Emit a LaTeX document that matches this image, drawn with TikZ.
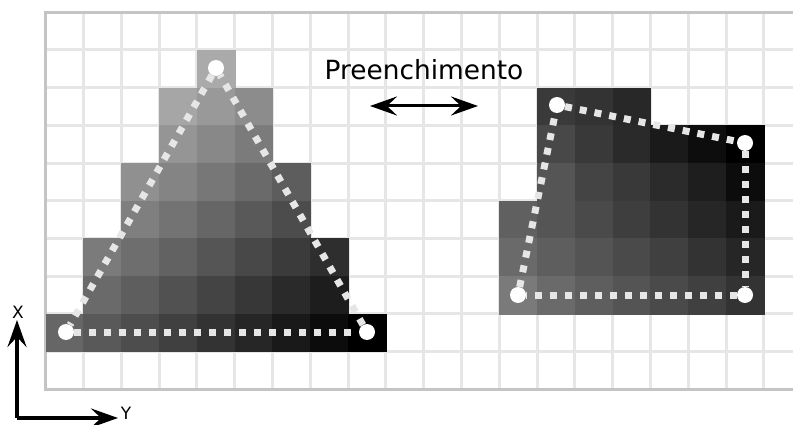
\documentclass[tikz,border=0pt]{standalone}
\usepackage{fontspec}
\setmainfont{DejaVu Sans}
\usetikzlibrary{arrows.meta}
\definecolor{gridc}{HTML}{E6E6E6}
\definecolor{borderc}{HTML}{C4C4C4}
\definecolor{dotc}{HTML}{E6E6E6}
\tikzset{
 gridline/.style={draw=gridc, line width=3pt},
 borderline/.style={draw=borderc, line width=3pt},
 edgeline/.style={draw=dotc, line width=7pt, dash pattern=on 7pt off 8pt},
 vert/.style={circle, fill=white, inner sep=0pt, minimum size=16pt},
 bigtip/.tip={Stealth[length=27pt,width=19pt,inset=10pt]},
 axisarrow/.style={line width=3.5pt, -bigtip},
 cell/.style={fill=black!#1, draw=black!#1, line width=0.3pt},
}
\begin{document}
\begin{tikzpicture}[x=1pt,y=-1pt]
\useasboundingbox (0,0) rectangle (793,425);
% grid
\foreach \k in {1,...,19} \draw[gridline] ({45.7+37.8*\k},12.3) -- ({45.7+37.8*\k},389.3);
\foreach \j in {1,...,9} \draw[gridline] (45.7,{12.3+37.7*\j}) -- (793,{12.3+37.7*\j});
\draw[borderline] (793,12.3) -- (45.7,12.3) -- (45.7,389.3) -- (793,389.3);
% triangle cells
\foreach \r/\a/\b in {1/4/4,2/3/5,3/3/5,4/2/6,5/2/6,6/1/7,7/1/7,8/0/8}{
 \foreach \c in {\a,...,\b}{
  \pgfmathsetmacro\cx{45.7+37.8*(\c+0.5)}
  \pgfmathsetmacro\cy{12.3+37.7*(\r+0.5)}
  \pgfmathsetmacro\p{100-max(0,min(255,273.8-0.339*\cx-0.450*\cy))/2.55}
  \path[cell=\p] ({45.7+37.8*\c},{12.3+37.7*\r}) rectangle ++(37.8,37.7);
 }}
% quad cells
\foreach \r/\c/\v in {2/13/58,2/14/51,2/15/40,
 3/13/72,3/14/57,3/15/42,3/16/26,3/17/13,3/18/0,
 4/13/85,4/14/68,4/15/57,4/16/43,4/17/30,4/18/12,
 5/12/96,5/13/85,5/14/74,5/15/62,5/16/51,5/17/38,5/18/26,
 6/12/106,6/13/94,6/14/84,6/15/74,6/16/64,6/17/51,6/18/38,
 7/12/122,7/13/106,7/14/94,7/15/84,7/16/74,7/17/64,7/18/51}{
  \pgfmathsetmacro\p{100-\v/2.55}
  \path[cell=\p] ({45.7+37.8*\c},{12.3+37.7*\r}) rectangle ++(37.8,37.7);
 }
% vertices
\node[vert] (A) at (216,68) {};
\node[vert] (B) at (66,332) {};
\node[vert] (C) at (367,332) {};
\node[vert] (P) at (557,105) {};
\node[vert] (Q) at (745,143) {};
\node[vert] (R) at (745,295) {};
\node[vert] (S) at (518,295) {};
\draw[edgeline] (A) -- (B);
\draw[edgeline] (B) -- (C);
\draw[edgeline] (C) -- (A);
\draw[edgeline] (P) -- (Q);
\draw[edgeline] (Q) -- (R);
\draw[edgeline] (R) -- (S);
\draw[edgeline] (S) -- (P);
% title and arrow
\node[font=\fontsize{26.4}{30}\selectfont, anchor=base, inner sep=0pt] (title) at (424,79.3) {Preenchimento};
\coordinate (al) at (370,106);
\coordinate (ar) at (478,106);
\draw[line width=3pt, bigtip-bigtip] (al) -- (ar);
% axes
\coordinate (O) at (17,418);
\coordinate (xt) at (17,320);
\coordinate (yt) at (118,418);
\draw[axisarrow] (O) -- (xt);
\draw[axisarrow] (O) -- (yt);
\node[font=\fontsize{17}{20}\selectfont, inner sep=0pt] (xl) at (18,312) {X};
\node[font=\fontsize{17}{20}\selectfont, inner sep=0pt, anchor=base] (yl) at (126,419) {Y};
\end{tikzpicture}
\end{document}
